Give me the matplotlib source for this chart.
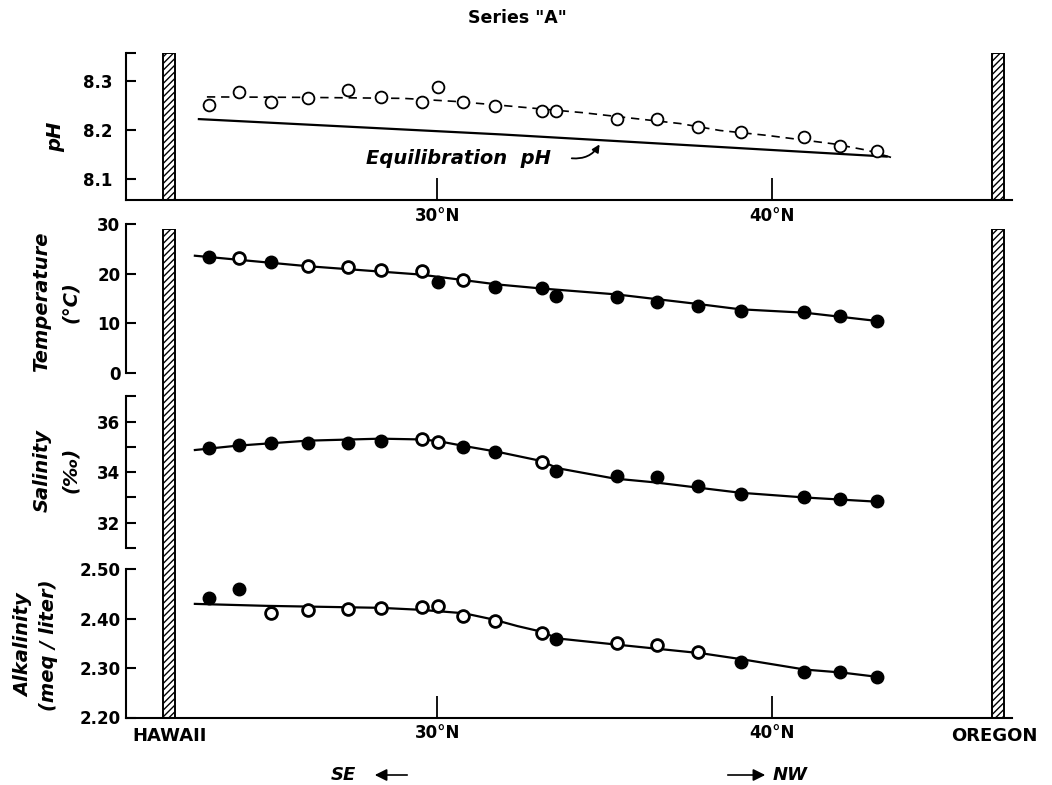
import matplotlib
matplotlib.use("Agg")
import matplotlib.pyplot as plt
from matplotlib.patches import FancyArrowPatch

# station latitudes (deg N) and measured values
lat = [23.18, 24.08, 25.03, 26.12, 27.32, 28.33, 29.54, 30.02, 30.77, 31.73,
       33.14, 33.56, 35.38, 36.58, 37.80, 39.08, 40.97, 42.05, 43.14]
ph = [8.250, 8.276, 8.256, 8.265, 8.281, 8.267, 8.257, 8.287, 8.257, 8.249,
      8.239, 8.239, 8.223, 8.223, 8.206, 8.195, 8.186, 8.167, 8.157]
temp = [23.3, 23.1, 22.3, 21.6, 21.3, 20.7, 20.6, 18.2, 18.7, 17.2,
        17.0, 15.5, 15.2, 14.3, 13.5, 12.5, 12.2, 11.4, 10.4]
temp_open = [0, 1, 0, 1, 1, 1, 1, 0, 1, 0, 0, 0, 0, 0, 0, 0, 0, 0, 0]
sal = [34.95, 35.08, 35.14, 35.17, 35.14, 35.25, 35.30, 35.21, 34.99, 34.81,
       34.42, 34.05, 33.86, 33.80, 33.45, 33.12, 33.01, 32.94, 32.86]
sal_open = [0, 0, 0, 0, 0, 0, 1, 1, 0, 0, 1, 0, 0, 0, 0, 0, 0, 0, 0]
alk = [2.442, 2.460, 2.411, 2.418, 2.420, 2.422, 2.423, 2.425, 2.406, 2.395,
       2.371, 2.358, 2.351, 2.346, 2.332, 2.312, 2.293, 2.293, 2.282]
alk_open = [0, 0, 1, 1, 1, 1, 1, 1, 1, 1, 1, 0, 1, 1, 1, 0, 0, 0, 0]

# hand-drawn curves
ph_fit_lat = [23.11, 26.1, 29.0, 30.5, 31.9, 34.36, 36.06, 37.26, 38.45, 39.86, 41.83, 42.85, 43.59]
ph_fit = [8.267, 8.266, 8.264, 8.258, 8.250, 8.235, 8.222, 8.213, 8.199, 8.189, 8.172, 8.159, 8.144]
eq_lat = [22.87, 31.89, 43.44]
eq_ph = [8.222, 8.191, 8.146]
temp_fit_lat = [22.75, 26.1, 29.5, 31.8, 33.1, 35.35, 37.75, 39.05, 41.0, 43.2]
temp_fit = [23.6, 21.5, 19.8, 17.8, 17.0, 15.8, 13.9, 12.8, 12.1, 10.4]
sal_fit_lat = [22.75, 24.0, 26.1, 28.3, 29.5, 30.0, 30.8, 31.8, 33.1, 33.6, 35.3, 36.5, 37.8, 39.05, 41.0, 43.2]
sal_fit = [34.88, 35.05, 35.25, 35.33, 35.30, 35.24, 35.04, 34.81, 34.45, 34.16, 33.75, 33.60, 33.39, 33.19, 33.00, 32.83]
alk_fit_lat = [22.75, 24.9, 28.3, 29.5, 30.8, 31.7, 32.4, 33.1, 33.6, 35.3, 36.6, 37.9, 39.1, 41.0, 42.1, 43.2]
alk_fit = [2.430, 2.426, 2.422, 2.418, 2.411, 2.398, 2.385, 2.374, 2.360, 2.348, 2.339, 2.330, 2.318, 2.297, 2.291, 2.282]

hawaii_lat, oregon_lat, bar_w = 21.98, 46.77, 0.36
xlim = (20.69, 47.19)

W, H = 1052, 785
def box(x0, y0, x1, y1):
    return [x0 / W, 1 - y1 / H, (x1 - x0) / W, (y1 - y0) / H]
def fxy(x, y):
    return (x / W, 1 - y / H)

plt.rcParams["hatch.linewidth"] = 1.0
fig = plt.figure(figsize=(W / 100, H / 100), dpi=100)

LW = 1.5
TF = dict(fontsize=12, fontweight="bold")

def style_y(ax, pad=4):
    for s in ["top", "right", "bottom"]:
        ax.spines[s].set_visible(False)
    ax.spines["left"].set_linewidth(LW)
    ax.tick_params(axis="y", direction="in", length=7.5, width=LW, pad=pad, labelsize=12)
    for t in ax.get_yticklabels():
        t.set_fontweight("bold")
    ax.set_xlim(*xlim)
    ax.patch.set_alpha(0)

def style_x(ax):
    ax.spines["bottom"].set_visible(True)
    ax.spines["bottom"].set_linewidth(LW)
    ax.set_xticks([30, 40])
    ax.set_xticklabels(["30°N", "40°N"], **TF)
    ax.tick_params(axis="x", direction="in", length=16, width=1.3, pad=5)

def bars(ax):
    for c in (hawaii_lat, oregon_lat):
        ax.axvspan(c - bar_w / 2, c + bar_w / 2, facecolor="white", edgecolor="black",
                   hatch="/////", lw=1.4)

def dots(ax, y, opn):
    for x, v, o in zip(lat, y, opn):
        if o:
            ax.plot(x, v, "o", ms=8.5, mfc="white", mec="black", mew=2.0, zorder=3)
        else:
            ax.plot(x, v, "o", ms=9, mfc="black", mec="black", zorder=3)

# pH panel
ax0 = fig.add_axes(box(126, 53, 1012, 200))
bars(ax0)
ax0.plot(ph_fit_lat, ph_fit, color="black", lw=1.2, dashes=(5, 3.5))
ax0.plot(eq_lat, eq_ph, color="black", lw=1.6)
ax0.plot(lat, ph, "o", ms=8.5, mfc="white", mec="black", mew=1.3, zorder=3)
ax0.set_ylim(8.058, 8.356)
ax0.set_yticks([8.1, 8.2, 8.3])
ax0.set_yticks([8.356], minor=True)
ax0.tick_params(axis="y", which="minor", direction="in", length=7.5, width=LW)
style_y(ax0, pad=10)
style_x(ax0)

# lower panel background with coast bars
axb = fig.add_axes(box(126, 229, 1012, 717.5), zorder=0)
axb.set_xlim(*xlim)
axb.set_ylim(0, 1)
axb.axis("off")
bars(axb)

axT = fig.add_axes(box(126, 224, 1012, 372.7), zorder=1)
axT.plot(temp_fit_lat, temp_fit, color="black", lw=1.6)
dots(axT, temp, temp_open)
axT.set_ylim(0, 30)
axT.set_yticks([0, 10, 20, 30])
style_y(axT)
axT.set_xticks([])

axS = fig.add_axes(box(126, 396.5, 1012, 548), zorder=1)
axS.plot(sal_fit_lat, sal_fit, color="black", lw=1.6)
dots(axS, sal, sal_open)
axS.set_ylim(31, 37)
axS.set_yticks([31, 32, 33, 34, 35, 36, 37])
axS.set_yticklabels(["", "32", "", "34", "", "36", ""])
style_y(axS)
axS.set_xticks([])

axA = fig.add_axes(box(126, 569.3, 1012, 717.5), zorder=1)
axA.plot(alk_fit_lat, alk_fit, color="black", lw=1.6)
dots(axA, alk, alk_open)
axA.set_ylim(2.20, 2.50)
axA.set_yticks([2.20, 2.30, 2.40, 2.50])
axA.set_yticklabels(["2.20", "2.30", "2.40", "2.50"])
style_y(axA)
style_x(axA)

# axis titles
YF = dict(fontsize=14, fontweight="bold", style="italic", rotation=90,
          ha="center", va="center", multialignment="center")
fig.text(*fxy(56, 137), "pH", **YF)
fig.text(*fxy(56, 302), "Temperature\n(°C)", linespacing=1.6, **YF)
fig.text(*fxy(56, 470), "Salinity\n(‰)", linespacing=1.6, **YF)
fig.text(*fxy(36, 645), "Alkalinity\n(meq / liter)", linespacing=1.4, **YF)

fig.text(*fxy(517, 18), 'Series "A"', ha="center", va="center", fontsize=12.5, fontweight="bold")
fig.text(*fxy(170, 736), "HAWAII", ha="center", va="center", fontsize=13, fontweight="bold")
fig.text(*fxy(994, 736), "OREGON", ha="center", va="center", fontsize=13, fontweight="bold")

fig.text(*fxy(458, 158), "Equilibration  pH", ha="center", va="center",
         fontsize=14, fontweight="bold", style="italic")
fig.add_artist(FancyArrowPatch(
    fxy(569, 158), fxy(601, 142), transform=fig.transFigure,
    connectionstyle="arc3,rad=0.35", arrowstyle="-|>", mutation_scale=11,
    color="black", lw=1.3))

# direction arrows
fig.text(*fxy(343, 775), "SE", ha="center", va="center", fontsize=13,
         fontweight="bold", style="italic")
fig.add_artist(FancyArrowPatch(
    fxy(410, 775), fxy(372, 775), transform=fig.transFigure,
    arrowstyle="-|>", mutation_scale=18, color="black", lw=1.2))
fig.add_artist(FancyArrowPatch(
    fxy(725, 775), fxy(768, 775), transform=fig.transFigure,
    arrowstyle="-|>", mutation_scale=18, color="black", lw=1.2))
fig.text(*fxy(790, 775), "NW", ha="center", va="center", fontsize=13,
         fontweight="bold", style="italic")

fig.savefig("out.png", dpi=100)
